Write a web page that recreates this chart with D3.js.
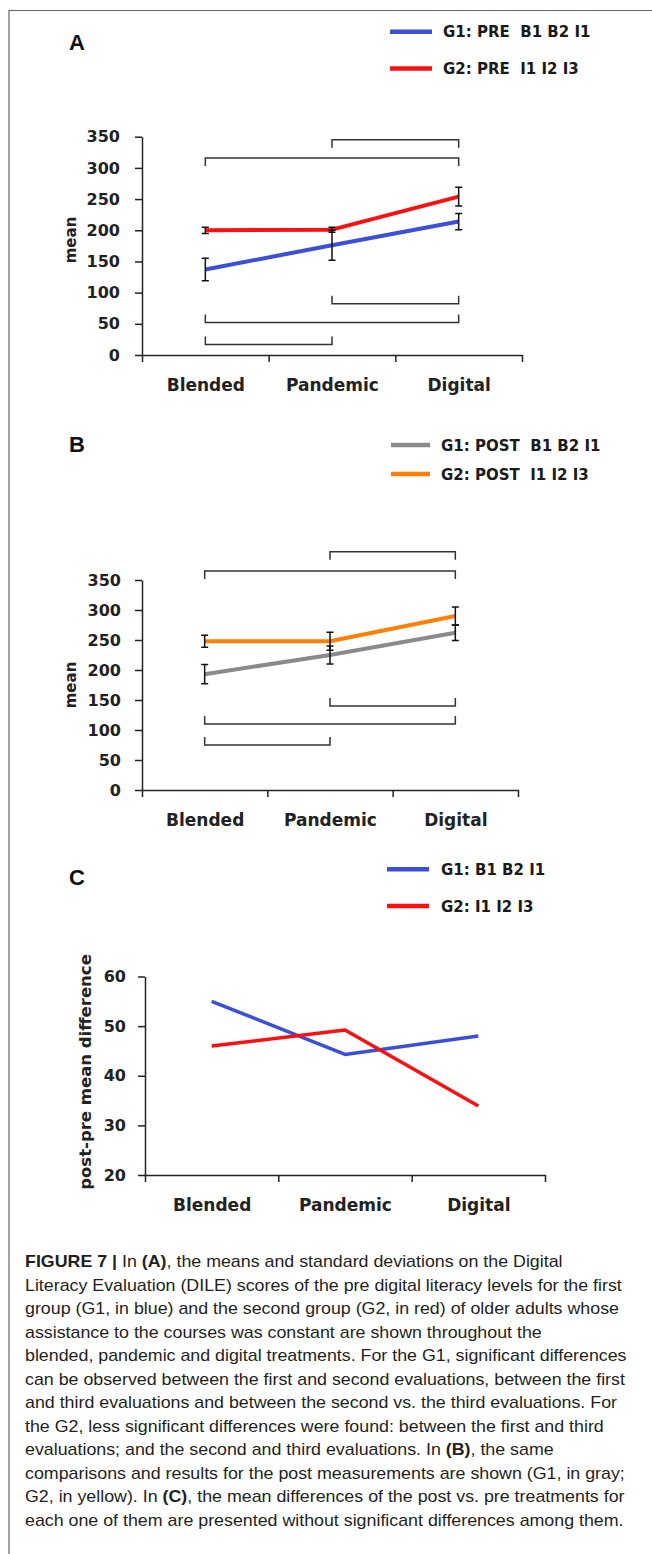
<!DOCTYPE html>
<html>
<head>
<meta charset="utf-8">
<script src="https://cdn.jsdelivr.net/npm/d3@7"></script>
<style>
  body { margin: 0; background: #fff; }
  svg { display: block; }
</style>
</head>
<body>
<svg id="fig"></svg>
<script>
const categories = ["Blended", "Pandemic", "Digital"];

// (A) pre means and standard deviations
const g1Pre = [137, 176, 214];
const g1PreSd = [18, 24, 13];
const g2Pre = [200, 201, 254];
const g2PreSd = [5, 4, 15];

// (B) post means and standard deviations
const g1Post = [193, 225, 262];
const g1PostSd = [16, 15, 13];
const g2Post = [248, 248, 290];
const g2PostSd = [10, 15, 15];

// (C) post-pre mean differences
const g1Diff = [55, 44.3, 48];
const g2Diff = [46, 49.2, 33.9];

const meanTicks = [0, 50, 100, 150, 200, 250, 300, 350];
const diffTicks = [20, 30, 40, 50, 60];

// significance brackets, height in data units
const bracketsA = [
  { from: "Pandemic", to: "Digital", value: 345, side: "top" },
  { from: "Blended", to: "Digital", value: 316, side: "top" },
  { from: "Pandemic", to: "Digital", value: 82, side: "bottom" },
  { from: "Blended", to: "Digital", value: 52, side: "bottom" },
  { from: "Blended", to: "Pandemic", value: 17, side: "bottom" }
];
const bracketsB = [
  { from: "Pandemic", to: "Digital", value: 397, side: "top" },
  { from: "Blended", to: "Digital", value: 365, side: "top" },
  { from: "Pandemic", to: "Digital", value: 140, side: "bottom" },
  { from: "Blended", to: "Digital", value: 110, side: "bottom" },
  { from: "Blended", to: "Pandemic", value: 75, side: "bottom" }
];

const legendA = ["G1: PRE  B1 B2 I1", "G2: PRE  I1 I2 I3"];
const legendB = ["G1: POST  B1 B2 I1", "G2: POST  I1 I2 I3"];
const legendC = ["G1: B1 B2 I1", "G2: I1 I2 I3"];

const captionLines = [
  "**FIGURE 7 |** In **(A)**, the means and standard deviations on the Digital",
  "Literacy Evaluation (DILE) scores of the pre digital literacy levels for the first",
  "group (G1, in blue) and the second group (G2, in red) of older adults whose",
  "assistance to the courses was constant are shown throughout the",
  "blended, pandemic and digital treatments. For the G1, significant differences",
  "can be observed between the first and second evaluations, between the first",
  "and third evaluations and between the second vs. the third evaluations. For",
  "the G2, less significant differences were found: between the first and third",
  "evaluations; and the second and third evaluations. In **(B)**, the same",
  "comparisons and results for the post measurements are shown (G1, in gray;",
  "G2, in yellow). In **(C)**, the mean differences of the post vs. pre treatments for",
  "each one of them are presented without significant differences among them."
];

const BLUE = "#3b4fd8", RED = "#fa1010", GRAY = "#8a8a8a", ORANGE = "#ff7f06";
const FONT = "'DejaVu Sans', sans-serif";

const svg = d3.select("#fig").attr("width", 652).attr("height", 1554);

// figure frame (left and top edges)
svg.append("path")
   .attr("d", "M9,1554V10.5H652")
   .attr("fill", "none")
   .attr("stroke", "#666")
   .attr("stroke-width", 1.2);

function drawPanel(p) {
  const g = svg.append("g");
  const x = d3.scalePoint().domain(categories).range(p.xRange).padding(0.5);
  const edges = d3.scaleLinear().domain([0, categories.length]).range(p.xRange);
  const y = d3.scaleLinear().domain(p.yDomain).range(p.yRange);

  // panel letter
  g.append("text")
   .attr("x", 69).attr("y", p.letterY)
   .attr("font-family", "'Liberation Sans', Arial, sans-serif")
   .attr("font-weight", "bold")
   .attr("font-size", 22)
   .attr("fill", "#111")
   .text(p.letter);

  // legend
  p.series.forEach((s, i) => {
    g.append("line")
     .attr("x1", p.legend.x1).attr("x2", p.legend.x2)
     .attr("y1", p.legend.ys[i]).attr("y2", p.legend.ys[i])
     .attr("stroke", s.color).attr("stroke-width", 4.5);
    g.append("text")
     .attr("x", p.legend.tx).attr("y", p.legend.ys[i] + 5.5)
     .attr("font-family", FONT).attr("font-weight", "bold").attr("font-size", 15)
     .attr("fill", "#1a1a1a")
     .style("white-space", "pre")
     .text(s.label);
  });

  // y axis
  const yAxis = g.append("g")
     .attr("transform", `translate(${p.xRange[0]},0)`)
     .call(d3.axisLeft(y).tickValues(p.ticks).tickSize(7).tickPadding(p.tickPad).tickSizeOuter(0));

  // x axis: marks on category boundaries
  const xAxis = g.append("g")
     .attr("transform", `translate(0,${p.yRange[0]})`)
     .call(d3.axisBottom(edges).tickValues(d3.range(categories.length + 1)).tickFormat("").tickSize(7).tickSizeOuter(0));

  // category labels
  const xLabels = g.append("g")
     .attr("transform", `translate(0,${p.yRange[0]})`)
     .call(d3.axisBottom(x).tickSize(0).tickPadding(24));
  xLabels.select(".domain").remove();

  [yAxis, xAxis, xLabels].forEach(a => {
    a.attr("font-family", FONT).attr("font-weight", "bold").attr("color", "#222");
    a.selectAll("path, line").attr("stroke-width", 1.5);
  });
  yAxis.attr("font-size", 16);
  xLabels.attr("font-size", 17);

  // y label
  g.append("text")
   .attr("transform", `translate(${p.yLabel.x},${p.yLabel.y}) rotate(-90)`)
   .attr("text-anchor", "middle")
   .attr("font-family", FONT).attr("font-weight", "bold").attr("font-size", p.yLabel.size)
   .attr("fill", "#222")
   .text(p.yLabel.text);

  // significance brackets
  (p.brackets || []).forEach(b => {
    const yb = y(b.value);
    const leg = b.side === "top" ? 8 : -8;
    const x1 = x(b.from), x2 = x(b.to);
    g.append("path")
     .attr("d", `M${x1},${yb + leg}V${yb}H${x2}V${yb + leg}`)
     .attr("fill", "none").attr("stroke", "#333").attr("stroke-width", 1.5);
  });

  // series lines
  const line = d3.line().x((d, i) => x(categories[i])).y(d => y(d));
  p.series.forEach(s => {
    g.append("path")
     .datum(s.values)
     .attr("d", line)
     .attr("fill", "none")
     .attr("stroke", s.color)
     .attr("stroke-width", p.lineWidth)
     .attr("stroke-linejoin", "round");
  });

  // error bars
  p.series.filter(s => s.sd).forEach(s => {
    s.values.forEach((v, i) => {
      const cx = x(categories[i]);
      const lo = y(v - s.sd[i]), hi = y(v + s.sd[i]);
      g.append("path")
       .attr("d", `M${cx},${lo}V${hi}M${cx - 3.5},${hi}H${cx + 3.5}M${cx - 3.5},${lo}H${cx + 3.5}`)
       .attr("fill", "none").attr("stroke", "#111").attr("stroke-width", 1.5);
    });
  });
}

drawPanel({
  letter: "A", letterY: 50,
  xRange: [142, 522], yDomain: [0, 350], yRange: [355, 136.7],
  ticks: meanTicks, tickPad: 15,
  legend: { x1: 390, x2: 432, tx: 443, ys: [31.7, 68.5] },
  yLabel: { x: 76, y: 240, text: "mean", size: 15 },
  brackets: bracketsA, lineWidth: 4,
  series: [
    { values: g1Pre, sd: g1PreSd, color: BLUE, label: legendA[0] },
    { values: g2Pre, sd: g2PreSd, color: RED, label: legendA[1] }
  ]
});

drawPanel({
  letter: "B", letterY: 451.7,
  xRange: [142, 518], yDomain: [0, 350], yRange: [790, 580],
  ticks: meanTicks, tickPad: 14,
  legend: { x1: 391, x2: 430, tx: 441, ys: [445, 474] },
  yLabel: { x: 76, y: 685, text: "mean", size: 15 },
  brackets: bracketsB, lineWidth: 4,
  series: [
    { values: g1Post, sd: g1PostSd, color: GRAY, label: legendB[0] },
    { values: g2Post, sd: g2PostSd, color: ORANGE, label: legendB[1] }
  ]
});

drawPanel({
  letter: "C", letterY: 885,
  xRange: [145, 545], yDomain: [20, 60], yRange: [1175, 976.5],
  ticks: diffTicks, tickPad: 12,
  legend: { x1: 387, x2: 429, tx: 441, ys: [869.3, 906] },
  yLabel: { x: 91, y: 1072, text: "post-pre mean difference", size: 16.5 },
  brackets: [], lineWidth: 3.5,
  series: [
    { values: g1Diff, color: BLUE, label: legendC[0] },
    { values: g2Diff, color: RED, label: legendC[1] }
  ]
});

// caption
const cap = svg.append("g").attr("font-family", "'Liberation Sans', Arial, sans-serif")
   .attr("font-size", 16).attr("fill", "#231f20");
captionLines.forEach((ln, i) => {
  const t = cap.append("text").attr("x", 0).attr("y", 1267.3 + i * 23.5).style("white-space", "pre");
  ln.split("**").forEach((part, j) => {
    if (part) t.append("tspan").attr("font-weight", j % 2 ? "bold" : "normal").text(part);
  });
});
let maxW = 0;
cap.selectAll("text").each(function() { maxW = Math.max(maxW, this.getComputedTextLength()); });
cap.attr("transform", `translate(25,0) scale(${602 / maxW},1)`);
</script>
</body>
</html>
